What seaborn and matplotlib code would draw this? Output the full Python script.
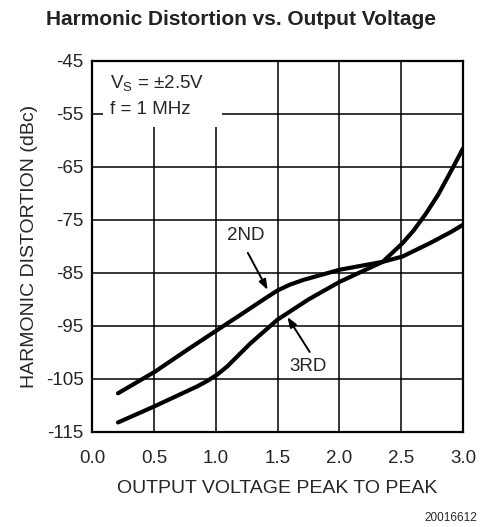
import pandas as pd
import matplotlib
matplotlib.use('Agg')
import matplotlib.pyplot as plt
import seaborn as sns
from matplotlib.patches import Rectangle

# Giá trị
vout_2nd = [0.21, 0.51, 0.77, 1.01, 1.2, 1.4, 1.5, 1.6, 1.71, 2.0, 2.35, 2.51, 2.73, 2.9, 3.0]
hd2 = [-107.7, -103.6, -99.5, -95.8, -92.9, -89.8, -88.3, -87.2, -86.3, -84.4, -82.9, -81.9, -79.4, -77.3, -75.9]
vout_3rd = [0.21, 0.51, 0.85, 0.93, 1.01, 1.09, 1.28, 1.5, 1.75, 2.0, 2.35, 2.51, 2.6, 2.7, 2.8, 2.9, 3.0]
hd3 = [-113.2, -110.1, -106.4, -105.4, -104.2, -102.7, -98.3, -93.8, -90.0, -86.7, -82.9, -79.4,
       -77.0, -73.8, -70.2, -65.9, -61.5]
xticks = [0.0, 0.5, 1.0, 1.5, 2.0, 2.5, 3.0]
yticks = [-115, -105, -95, -85, -75, -65, -55, -45]

df = pd.DataFrame({
    'vout': vout_2nd + vout_3rd,
    'hd': hd2 + hd3,
    'harm': ['2ND'] * len(vout_2nd) + ['3RD'] * len(vout_3rd),
})

sns.set_style('white')
plt.rcParams['font.family'] = ['Liberation Sans', 'DejaVu Sans']
plt.rcParams['mathtext.fontset'] = 'custom'
plt.rcParams['mathtext.rm'] = 'Liberation Sans'

fig = plt.figure(figsize=(4.82, 5.27), dpi=100)
ax = fig.add_axes([0.191, 0.1803, 0.7696, 0.704])

sns.lineplot(data=df, x='vout', y='hd', hue='harm', palette=['black', 'black'],
             linewidth=3.0, legend=False, ax=ax, zorder=3)

ax.set_xlim(0, 3.0)
ax.set_ylim(-115, -45)
ax.set_xticks(xticks)
ax.set_yticks(yticks)
ax.set_xticklabels([f'{t:.1f}' for t in xticks], fontsize=13.5)
ax.set_yticklabels([str(t) for t in yticks], fontsize=13.5)
ax.tick_params(axis='x', length=0, pad=13)
ax.tick_params(axis='y', length=0, pad=6)
ax.grid(True, color='black', linewidth=1.1)
ax.set_axisbelow(True)
for s in ax.spines.values():
    s.set_color('black')
    s.set_linewidth(1.6)

ax.set_xlabel('OUTPUT VOLTAGE PEAK TO PEAK', fontsize=14, labelpad=9)
ax.set_ylabel('HARMONIC DISTORTION (dBc)', fontsize=14, labelpad=6)
fig.text(0.5, 0.963, 'Harmonic Distortion vs. Output Voltage', ha='center', va='center',
         fontsize=15, fontweight='bold', color='#222222')
fig.text(0.99, 0.018, '20016612', ha='right', va='center', fontsize=8.5)

# hộp chú thích điều kiện
ax.add_patch(Rectangle((0.09, -57.4), 0.96, 12.4, facecolor='white', edgecolor='none', zorder=2))
ax.text(0.145, -49.3, r'V$_\mathregular{S}$ = ±2.5V', fontsize=13.5, va='center', zorder=4)
ax.text(0.145, -54.2, 'f = 1 MHz', fontsize=13.5, va='center', zorder=4)

arrow = dict(arrowstyle='-|>,head_length=0.6,head_width=0.22', color='black', lw=1.4,
             shrinkA=0, shrinkB=0)
ax.text(1.24, -78.0, '2ND', fontsize=13.5, ha='center', va='center', zorder=4)
ax.annotate('', xy=(1.42, -88.2), xytext=(1.26, -81.2), arrowprops=arrow, zorder=4)
ax.text(1.75, -102.7, '3RD', fontsize=13.5, ha='center', va='center', zorder=4)
ax.annotate('', xy=(1.58, -93.3), xytext=(1.76, -99.9), arrowprops=arrow, zorder=4)

fig.savefig('out.png', dpi=100)
